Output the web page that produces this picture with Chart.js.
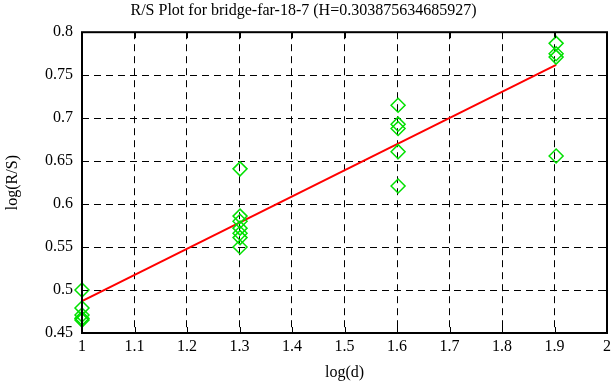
<!DOCTYPE html>
<html>
<head>
<meta charset="utf-8">
<script src="https://cdn.jsdelivr.net/npm/chart.js@4"></script>
<style>
    html, body { margin: 0; padding: 0; background: #fff; }
    #wrap { width: 616px; height: 387px; }
</style>
</head>
<body>
<div id="wrap"><canvas id="rs-plot"></canvas></div>
<script>
// log(d) for d = 10, 20, 40, 80
const logD = [1, 1.30103, 1.60206, 1.90309];

// log(R/S) samples per log(d)
const rsAt10 = [0.5, 0.479, 0.471, 0.467, 0.465];
const rsAt20 = [0.641, 0.586, 0.58, 0.572, 0.566, 0.561, 0.55];
const rsAt40 = [0.715, 0.693, 0.688, 0.661, 0.621];
const rsAt80 = [0.787, 0.775, 0.771, 0.656];

// fitted line endpoints
const fitX = [1, 1.90309];
const fitY = [0.487, 0.762];

const xTicks = { min: 1, max: 2, step: 0.1 };
const yTicks = { min: 0.45, max: 0.8, step: 0.05 };

const fontFamily = "'Liberation Serif', 'DejaVu Serif', serif";

const points = [];
[rsAt10, rsAt20, rsAt40, rsAt80].forEach(function (list, i) {
    list.forEach(function (v) {
        points.push({ x: logD[i], y: v });
    });
});

function tick_label(value) {
    return String(Number(value.toFixed(2)));
}

// gnuplot-like frame: full border and inward ticks on all sides
const framePlugin = {
    id: 'frame',
    afterDraw: function (chart) {
        const ctx = chart.ctx;
        const a = chart.chartArea;
        const len = 6;
        ctx.save();
        ctx.strokeStyle = '#000';
        ctx.lineWidth = 1;
        chart.scales.x.ticks.forEach(function (t) {
            const px = Math.round(chart.scales.x.getPixelForValue(t.value)) + 0.5;
            ctx.beginPath();
            ctx.moveTo(px, a.bottom); ctx.lineTo(px, a.bottom - len);
            ctx.moveTo(px, a.top); ctx.lineTo(px, a.top + len);
            ctx.stroke();
        });
        chart.scales.y.ticks.forEach(function (t) {
            const py = Math.round(chart.scales.y.getPixelForValue(t.value)) + 0.5;
            ctx.beginPath();
            ctx.moveTo(a.left, py); ctx.lineTo(a.left + len, py);
            ctx.moveTo(a.right, py); ctx.lineTo(a.right - len, py);
            ctx.stroke();
        });
        ctx.lineWidth = 2;
        ctx.strokeRect(a.left, a.top, a.right - a.left, a.bottom - a.top);
        ctx.restore();
    }
};

const config = {
    type: 'scatter',
    data: {
        datasets: [
            {
                label: 'R/S',
                data: points,
                pointStyle: 'rectRot',
                pointRadius: 7,
                pointBorderWidth: 1.5,
                borderColor: '#00e000',
                backgroundColor: 'rgba(0,0,0,0)',
                clip: false,
                order: 1
            },
            {
                label: 'fit',
                data: fitX.map(function (x, i) { return { x: x, y: fitY[i] }; }),
                showLine: true,
                pointRadius: 0,
                borderColor: '#ff0000',
                borderWidth: 2,
                order: 2
            }
        ]
    },
    options: {
        responsive: true,
        maintainAspectRatio: false,
        animation: false,
        layout: {
            padding: { top: 0, right: 9, left: 0, bottom: 0 }
        },
        scales: {
            x: {
                type: 'linear',
                min: xTicks.min,
                max: xTicks.max,
                ticks: {
                    stepSize: xTicks.step,
                    color: '#000',
                    padding: 4,
                    maxRotation: 0,
                    callback: tick_label,
                    font: { family: fontFamily, size: 16 }
                },
                grid: {
                    color: '#000',
                    lineWidth: 1,
                    drawTicks: false
                },
                border: { display: false, dash: [7, 5] },
                title: {
                    display: true,
                    text: 'log(d)',
                    color: '#000',
                    padding: { top: 0, bottom: 5 },
                    font: { family: fontFamily, size: 16 }
                },
                afterFit: function (scale) { scale.height = 54; }
            },
            y: {
                type: 'linear',
                min: yTicks.min,
                max: yTicks.max,
                ticks: {
                    stepSize: yTicks.step,
                    color: '#000',
                    padding: 9,
                    callback: tick_label,
                    font: { family: fontFamily, size: 16 }
                },
                grid: {
                    color: '#000',
                    lineWidth: 1,
                    drawTicks: false
                },
                border: { display: false, dash: [7, 5] },
                title: {
                    display: true,
                    text: 'log(R/S)',
                    color: '#000',
                    padding: { top: 3, bottom: 0 },
                    font: { family: fontFamily, size: 16 }
                },
                afterFit: function (scale) { scale.width = 82; }
            }
        },
        plugins: {
            legend: { display: false },
            tooltip: { enabled: false },
            title: {
                display: true,
                text: 'R/S Plot for bridge-far-18-7 (H=0.303875634685927)',
                color: '#000',
                padding: { top: 1, bottom: 12 },
                font: { family: fontFamily, size: 16, weight: 'normal' }
            }
        }
    },
    plugins: [framePlugin]
};

new Chart(document.getElementById('rs-plot'), config);
</script>
</body>
</html>
